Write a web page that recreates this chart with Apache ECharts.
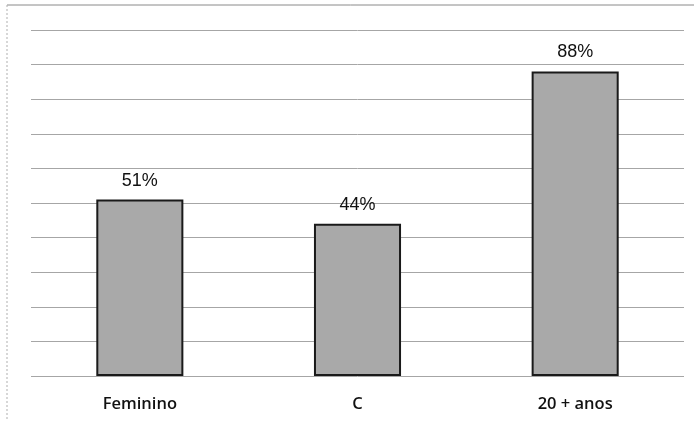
<!DOCTYPE html>
<html>
<head>
<meta charset="utf-8">
<script src="https://cdn.jsdelivr.net/npm/echarts@6/dist/echarts.min.js"></script>
<style>
  html, body { margin: 0; padding: 0; background: #fff; }
  #chart { width: 694px; height: 421px; }
</style>
</head>
<body>
<div id="chart"></div>
<script>
// Profile shares per group
const categories = ['Feminino', 'C', '20 + anos'];
const values = [51, 44, 88];
const percentLabels = ['51%', '44%', '88%'];

const chart = echarts.init(document.getElementById('chart'), null, { renderer: 'canvas' });

chart.setOption({
  backgroundColor: '#ffffff',
  animation: false,
  graphic: [
    // outer frame: top rule and dotted left edge
    { type: 'line', shape: { x1: 7, y1: 5, x2: 694, y2: 5 }, style: { stroke: '#8a8a8a', lineWidth: 1 } },
    { type: 'line', shape: { x1: 7, y1: 5, x2: 7, y2: 421 }, style: { stroke: '#b0b0b0', lineWidth: 1, lineDash: [2, 2] } }
  ],
  grid: { left: 31, right: 10, top: 30, bottom: 45 },
  xAxis: {
    type: 'category',
    data: categories,
    axisLine: { show: false },
    axisTick: { show: false },
    axisLabel: {
      margin: 20,
      color: '#111111',
      fontFamily: 'Open Sans',
      fontWeight: 600,
      fontSize: 16.5
    }
  },
  yAxis: {
    type: 'value',
    min: 0,
    max: 100,
    interval: 10,
    axisLabel: { show: false },
    axisLine: { show: false },
    axisTick: { show: false },
    splitLine: { show: true, lineStyle: { color: '#a6a6a6', width: 1 } }
  },
  series: [{
    type: 'bar',
    data: values,
    barWidth: '40%',
    itemStyle: {
      color: '#a9a9a9',
      borderColor: '#1a1a1a',
      borderWidth: 2
    },
    label: {
      show: true,
      position: 'top',
      distance: 10,
      formatter: (p) => percentLabels[p.dataIndex],
      color: '#111111',
      fontFamily: 'Liberation Sans',
      fontSize: 18
    }
  }]
});
</script>
</body>
</html>
